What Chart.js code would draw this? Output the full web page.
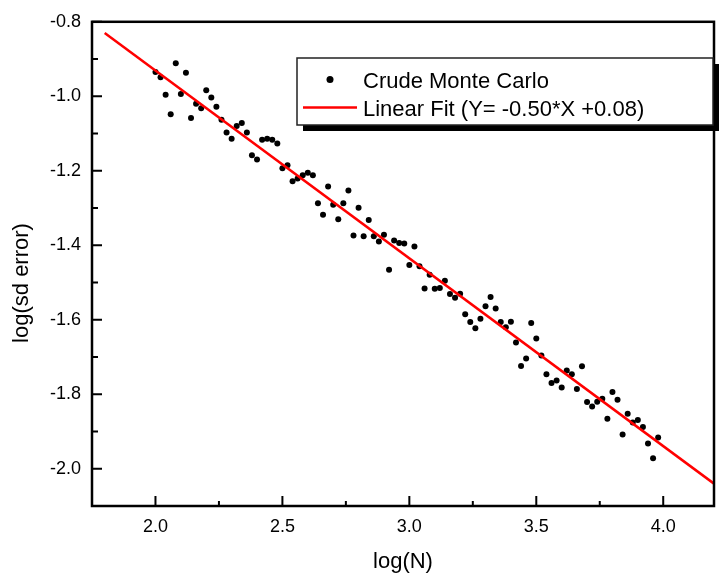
<!DOCTYPE html>
<html lang="en">
<head>
<meta charset="UTF-8">
<title>Crude Monte Carlo</title>
<script src="https://cdn.jsdelivr.net/npm/chart.js@4.4.1/dist/chart.umd.min.js"></script>
<style>
  body { margin: 0; background: #fff; }
  #wrap { width: 720px; height: 576px; }
</style>
</head>
<body>
<div id="wrap"><canvas id="chart" width="720" height="576"></canvas></div>
<script>
// log(N) values of the simulation runs
const logN = [
  2.00, 2.02, 2.04, 2.06, 2.08, 2.10, 2.12, 2.14, 2.16, 2.18,
  2.20, 2.22, 2.24, 2.26, 2.28, 2.30, 2.32, 2.34, 2.36, 2.38,
  2.40, 2.42, 2.44, 2.46, 2.48, 2.50, 2.52, 2.54, 2.56, 2.58,
  2.60, 2.62, 2.64, 2.66, 2.68, 2.70, 2.72, 2.74, 2.76, 2.78,
  2.80, 2.82, 2.84, 2.86, 2.88, 2.90, 2.92, 2.94, 2.96, 2.98,
  3.00, 3.02, 3.04, 3.06, 3.08, 3.10, 3.12, 3.14, 3.16, 3.18,
  3.20, 3.22, 3.24, 3.26, 3.28, 3.30, 3.32, 3.34, 3.36, 3.38,
  3.40, 3.42, 3.44, 3.46, 3.48, 3.50, 3.52, 3.54, 3.56, 3.58,
  3.60, 3.62, 3.64, 3.66, 3.68, 3.70, 3.72, 3.74, 3.76, 3.78,
  3.80, 3.82, 3.84, 3.86, 3.88, 3.90, 3.92, 3.94, 3.96, 3.98
];
// log(sd error)
const sdError = [
  -0.935, -0.949, -0.996, -1.048, -0.911, -0.994, -0.937, -1.058, -1.020, -1.032,
  -0.984, -1.003, -1.028, -1.063, -1.097, -1.114, -1.080, -1.072, -1.097, -1.158,
  -1.170, -1.117, -1.114, -1.117, -1.127, -1.193, -1.185, -1.228, -1.221, -1.212,
  -1.205, -1.212, -1.287, -1.318, -1.242, -1.291, -1.330, -1.287, -1.253, -1.374,
  -1.299, -1.376, -1.332, -1.376, -1.390, -1.372, -1.466, -1.387, -1.394, -1.395,
  -1.453, -1.403, -1.456, -1.516, -1.479, -1.517, -1.515, -1.495, -1.531, -1.541,
  -1.530, -1.585, -1.606, -1.623, -1.597, -1.564, -1.539, -1.570, -1.606, -1.620,
  -1.605, -1.661, -1.724, -1.704, -1.609, -1.650, -1.696, -1.746, -1.770, -1.763,
  -1.782, -1.736, -1.746, -1.786, -1.725, -1.821, -1.833, -1.820, -1.812, -1.866,
  -1.794, -1.815, -1.908, -1.852, -1.876, -1.869, -1.888, -1.932, -1.972, -1.916
];
// linear fit end points
const fitX = [1.80, 4.20];
const fitY = [-0.83, -2.04];

const xTicks = [2.0, 2.5, 3.0, 3.5, 4.0];
const xMinor = [2.25, 2.75, 3.25, 3.75];
const yTicks = [-2.0, -1.8, -1.6, -1.4, -1.2, -1.0, -0.8];
const yMinor = [-1.9, -1.7, -1.5, -1.3, -1.1, -0.9];

const pointLabel = "Crude Monte Carlo";
const fitLabel = "Linear Fit (Y= -0.50*X +0.08)";

Chart.defaults.font.family = "'Liberation Sans', Arial, sans-serif";
Chart.defaults.color = "#000";

// frame with inward ticks, like the original plot
const frameTicks = {
  id: "frameTicks",
  afterDatasetsDraw(chart) {
    const { ctx, chartArea: a, scales } = chart;
    ctx.save();
    ctx.strokeStyle = "#000";
    ctx.lineWidth = 2.5;
    ctx.strokeRect(a.left, a.top, a.right - a.left, a.bottom - a.top);
    ctx.lineWidth = 2;
    ctx.beginPath();
    xTicks.forEach(v => { const p = scales.x.getPixelForValue(v); ctx.moveTo(p, a.bottom); ctx.lineTo(p, a.bottom - 10); });
    xMinor.forEach(v => { const p = scales.x.getPixelForValue(v); ctx.moveTo(p, a.bottom); ctx.lineTo(p, a.bottom - 5); });
    yTicks.forEach(v => { const p = scales.y.getPixelForValue(v); ctx.moveTo(a.left, p); ctx.lineTo(a.left + 10, p); });
    yMinor.forEach(v => { const p = scales.y.getPixelForValue(v); ctx.moveTo(a.left, p); ctx.lineTo(a.left + 6, p); });
    ctx.stroke();

    // y title
    ctx.fillStyle = "#000";
    ctx.font = "22px 'Liberation Sans', Arial, sans-serif";
    ctx.textBaseline = "alphabetic";
    ctx.textAlign = "center";
    ctx.translate(28, 283);
    ctx.rotate(-Math.PI / 2);
    ctx.fillText("log(sd error)", 0, 0);
    ctx.restore();
  },
  afterDraw(chart) {
    // legend box with drop shadow
    const ctx = chart.ctx;
    const ds = chart.data.datasets;
    ctx.save();
    ctx.fillStyle = "#000";
    ctx.fillRect(303, 64, 416, 67);
    ctx.fillStyle = "#fff";
    ctx.fillRect(297, 58, 416, 67);
    ctx.strokeStyle = "#222";
    ctx.lineWidth = 1.5;
    ctx.strokeRect(297, 58, 416, 67);

    ctx.fillStyle = ds[0].backgroundColor;
    ctx.beginPath();
    ctx.arc(330, 79.5, 3.5, 0, Math.PI * 2);
    ctx.fill();

    ctx.strokeStyle = ds[1].borderColor;
    ctx.lineWidth = 2.5;
    ctx.beginPath();
    ctx.moveTo(303, 107.5);
    ctx.lineTo(357, 107.5);
    ctx.stroke();

    ctx.fillStyle = "#000";
    ctx.font = "22px 'Liberation Sans', Arial, sans-serif";
    ctx.textBaseline = "alphabetic";
    ctx.textAlign = "left";
    ctx.fillText(ds[0].label, 363, 87.5);
    ctx.fillText(ds[1].label, 363, 115.5);
    ctx.restore();
  }
};

new Chart(document.getElementById("chart"), {
  type: "scatter",
  data: {
    datasets: [
      {
        label: pointLabel,
        data: logN.map((x, i) => ({ x: x, y: sdError[i] })),
        backgroundColor: "#000",
        borderWidth: 0,
        pointRadius: 3,
        order: 1
      },
      {
        label: fitLabel,
        data: fitX.map((x, i) => ({ x: x, y: fitY[i] })),
        showLine: true,
        borderColor: "#ff0000",
        borderWidth: 2.5,
        pointRadius: 0,
        order: 0
      }
    ]
  },
  options: {
    responsive: false,
    animation: false,
    layout: { padding: { top: 21, right: 6, left: 0, bottom: 0 } },
    plugins: { legend: { display: false }, tooltip: { enabled: false } },
    scales: {
      x: {
        type: "linear",
        min: 1.75,
        max: 4.2,
        grid: { display: false, drawTicks: false },
        border: { display: false },
        afterBuildTicks: (s) => { s.ticks = xTicks.map(v => ({ value: v })); },
        afterFit: (s) => { s.height = 70; },
        ticks: {
          autoSkip: false,
          maxRotation: 0,
          padding: 10,
          font: { size: 18 },
          callback: (v) => v.toFixed(1)
        },
        title: {
          display: true,
          text: "log(N)",
          font: { size: 22 },
          padding: { top: 0, bottom: 1 }
        }
      },
      y: {
        type: "linear",
        min: -2.1,
        max: -0.8,
        grid: { display: false, drawTicks: false },
        border: { display: false },
        afterBuildTicks: (s) => { s.ticks = yTicks.map(v => ({ value: v })); },
        afterFit: (s) => { s.width = 92; },
        ticks: {
          autoSkip: false,
          padding: 11,
          font: { size: 18 },
          callback: (v) => v.toFixed(1)
        }
      }
    }
  },
  plugins: [frameTicks]
});
</script>
</body>
</html>
